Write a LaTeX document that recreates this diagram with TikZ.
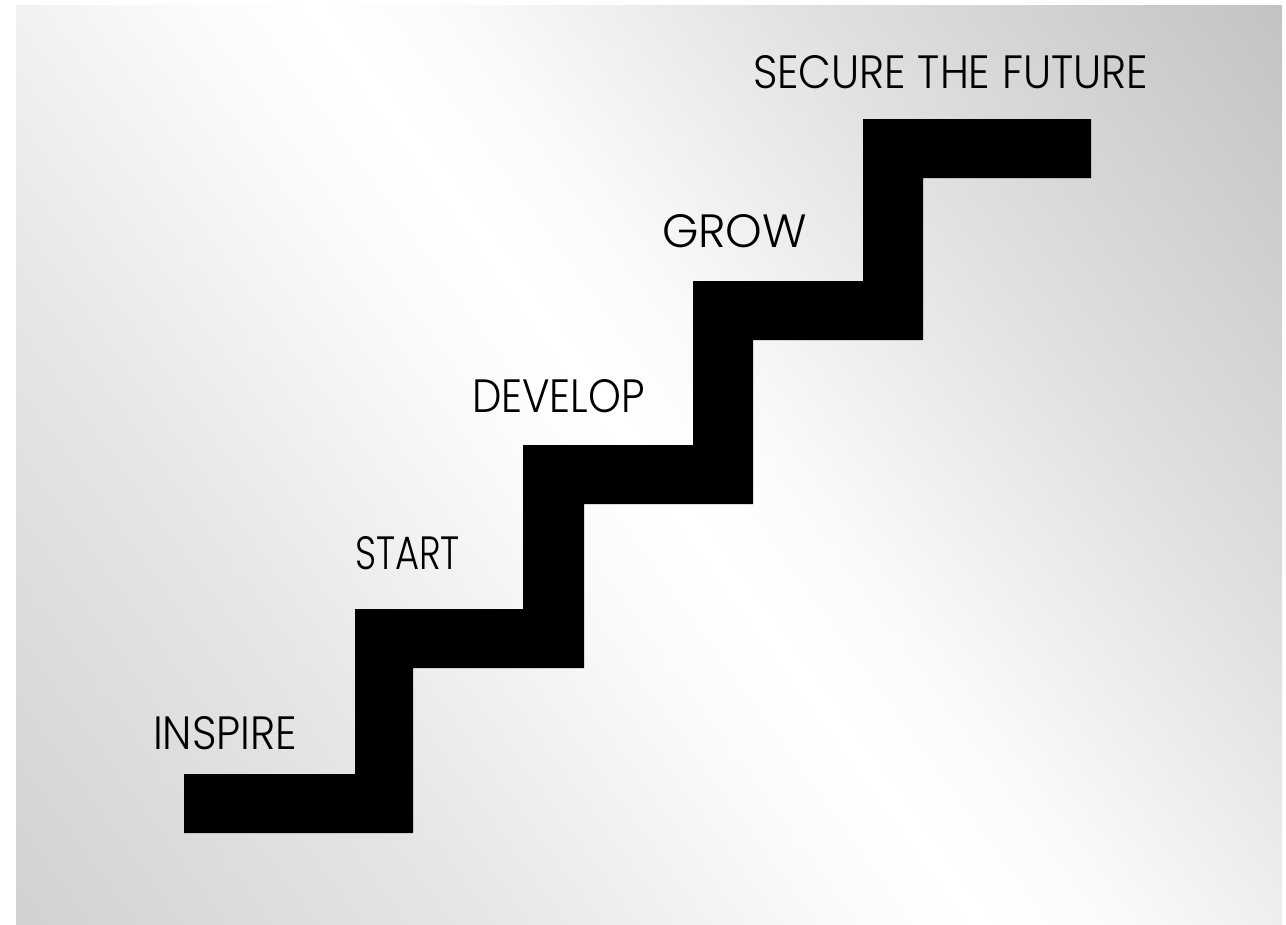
\documentclass[tikz,border=0pt]{standalone}
\usepackage{fontspec}
\usepackage{graphicx}
\newfontfamily\lab{Poppins}[UprightFont={* Light}]
\definecolor{gBL}{RGB}{208,208,211}
\definecolor{gBLm}{RGB}{230,230,232}
\definecolor{gNear}{RGB}{250,250,250}
\definecolor{gTRm}{RGB}{224,224,226}
\definecolor{gTR}{RGB}{193,193,196}
\pgfdeclareverticalshading{bgshade}{100bp}{color(0bp)=(gBL); color(25bp)=(gBLm); color(43bp)=(gNear); color(50bp)=(white); color(57bp)=(gNear); color(75bp)=(gTRm); color(100bp)=(gTR)}
\tikzset{
  steplabel/.style={anchor=base west, inner sep=0pt, outer sep=0pt, text=black},
  stair/.style={fill=black}
}
\begin{document}
\begin{tikzpicture}[x=0.75pt,y=-0.75pt]
\useasboundingbox (0,0) rectangle (1286,925);
\fill[white] (0,0) rectangle (1286,925);
\begin{scope}
  \clip (16,5) rectangle (1282,925);
  \node[inner sep=0pt, outer sep=0pt, scale=12, rotate=-54] (bg) at (648,465) {\pgfuseshading{bgshade}};
\end{scope}
% staircase
\path[stair] (184,833) -| (413,668) -| (584,504) -| (753,340) -| (923,178)
  -- (1091,178) -- (1091,119) -- (863,119) |- (693,281) |- (523,445) |- (355,609) |- (184,774) -- cycle;
% labels
\node[steplabel] (t5) at (753,88) {\resizebox{296.25pt}{24.75pt}{\lab SECURE THE FUTURE}};
\node[steplabel] (t4) at (662,247) {\resizebox{108.75pt}{24.75pt}{\lab GROW}};
\node[steplabel] (t3) at (472,412) {\resizebox{129.75pt}{24.75pt}{\lab DEVELOP}};
\node[steplabel] (t2) at (355,569) {\resizebox{78.75pt}{24.75pt}{\lab START}};
\node[steplabel] (t1) at (153,749) {\resizebox{108pt}{24.75pt}{\lab INSPIRE}};
\end{tikzpicture}
\end{document}
